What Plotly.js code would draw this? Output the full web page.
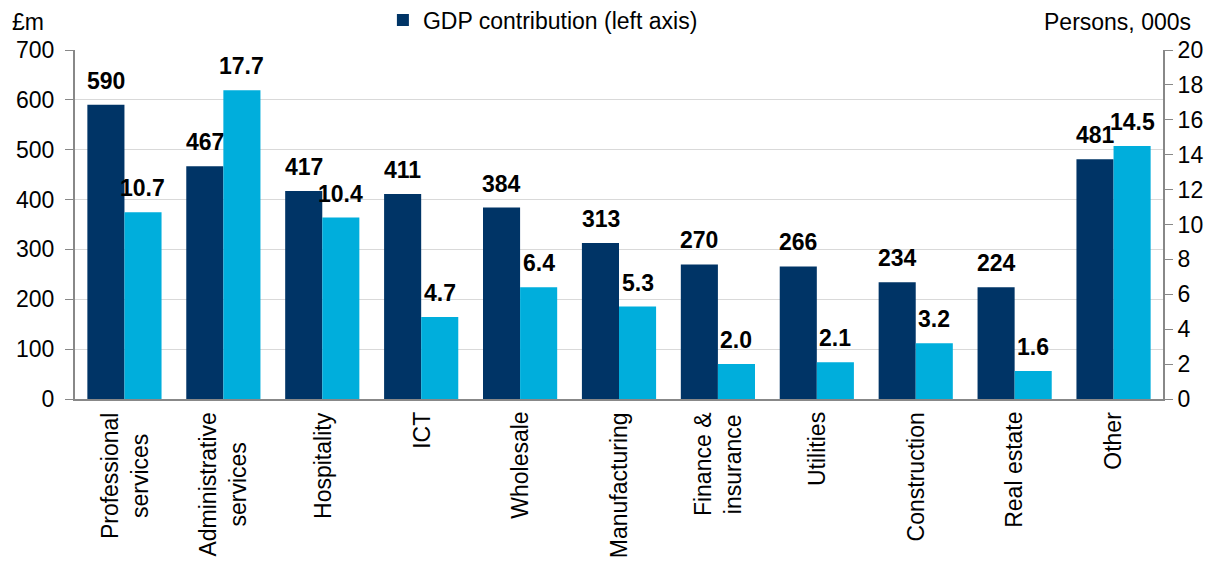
<!DOCTYPE html>
<html>
<head>
<meta charset="utf-8">
<script src="https://cdn.plot.ly/plotly-3.0.1.min.js"></script>
<style>
  body { margin: 0; background: #fff; }
  #chart { width: 1220px; height: 565px; }
</style>
</head>
<body>
<div id="chart"></div>
<script>
var sectors = ['Professional<br>services', 'Administrative<br>services', 'Hospitality', 'ICT', 'Wholesale',
	'Manufacturing', 'Finance &<br>insurance', 'Utilities', 'Construction', 'Real estate', 'Other'];
var gdp = [590, 467, 417, 411, 384, 313, 270, 266, 234, 224, 481]; // £m, left axis
var persons = [10.7, 17.7, 10.4, 4.7, 6.4, 5.3, 2.0, 2.1, 3.2, 1.6, 14.5]; // 000s, right axis

var darkBlue = '#003466';
var lightBlue = '#00aedc';
var font = 'Arial, "Liberation Sans", sans-serif';

var trace1 = {
	x: sectors,
	y: gdp,
	type: 'bar',
	name: 'GDP contribution (left axis)',
	offsetgroup: '1',
	marker: {color: darkBlue},
	hoverinfo: 'skip'
};

var trace2 = {
	x: sectors,
	y: persons,
	type: 'bar',
	name: 'Employment (right axis)',
	yaxis: 'y2',
	offsetgroup: '2',
	showlegend: false,
	marker: {color: lightBlue},
	hoverinfo: 'skip'
};

var annotations = [
	{text: '£m', xref: 'paper', yref: 'paper', x: -0.06, y: 1.08,
		xanchor: 'left', yanchor: 'middle', showarrow: false, font: {size: 23}},
	{text: 'Persons, 000s', xref: 'paper', yref: 'paper', x: 1.0276, y: 1.08,
		xanchor: 'right', yanchor: 'middle', showarrow: false, font: {size: 23}}
];

// value labels above bars, and category labels under the axis
for (var i = 0; i < sectors.length; i++) {
	annotations.push({
		text: '<b>' + gdp[i] + '</b>', x: sectors[i], y: gdp[i], xref: 'x', yref: 'y',
		xshift: -18.5, yshift: 9, xanchor: 'center', yanchor: 'bottom',
		showarrow: false, font: {size: 23}
	});
	annotations.push({
		text: '<b>' + persons[i].toFixed(1) + '</b>', x: sectors[i], y: persons[i], xref: 'x', yref: 'y2',
		xshift: 18.5, yshift: 9, xanchor: 'center', yanchor: 'bottom',
		showarrow: false, font: {size: 23}
	});
	annotations.push({
		text: sectors[i], x: sectors[i], y: -0.032, xref: 'x', yref: 'paper',
		textangle: -90, align: 'center', xanchor: 'center', yanchor: 'top',
		showarrow: false, font: {size: 23}
	});
}

var layout = {
	width: 1220,
	height: 565,
	margin: {l: 75, r: 57, t: 50, b: 166, autoexpand: false},
	paper_bgcolor: '#fff',
	plot_bgcolor: '#fff',
	font: {family: font, size: 23, color: '#000'},
	barmode: 'group',
	bargap: 0.25,
	bargroupgap: 0,
	showlegend: true,
	legend: {
		orientation: 'h',
		x: 0.283, xanchor: 'left',
		y: 1.086, yanchor: 'middle',
		font: {size: 23},
		itemwidth: 20
	},
	xaxis: {
		showticklabels: false,
		showline: true,
		linecolor: '#888',
		linewidth: 2,
		ticks: '',
		showgrid: false
	},
	yaxis: {
		range: [0, 700],
		dtick: 100,
		showline: true,
		linecolor: '#888',
		linewidth: 2,
		ticks: 'outside',
		ticklen: 8,
		tickcolor: '#888',
		ticklabelstandoff: 6,
		gridcolor: '#d9d9d9',
		gridwidth: 1,
		zeroline: false,
		tickfont: {size: 23}
	},
	yaxis2: {
		overlaying: 'y',
		side: 'right',
		range: [0, 20],
		dtick: 2,
		showline: true,
		linecolor: '#888',
		linewidth: 2,
		ticks: 'outside',
		ticklen: 8,
		tickcolor: '#888',
		showgrid: false,
		zeroline: false,
		tickfont: {size: 23}
	},
	annotations: annotations
};

Plotly.newPlot('chart', [trace1, trace2], layout, {displayModeBar: false, staticPlot: true});
</script>
</body>
</html>
